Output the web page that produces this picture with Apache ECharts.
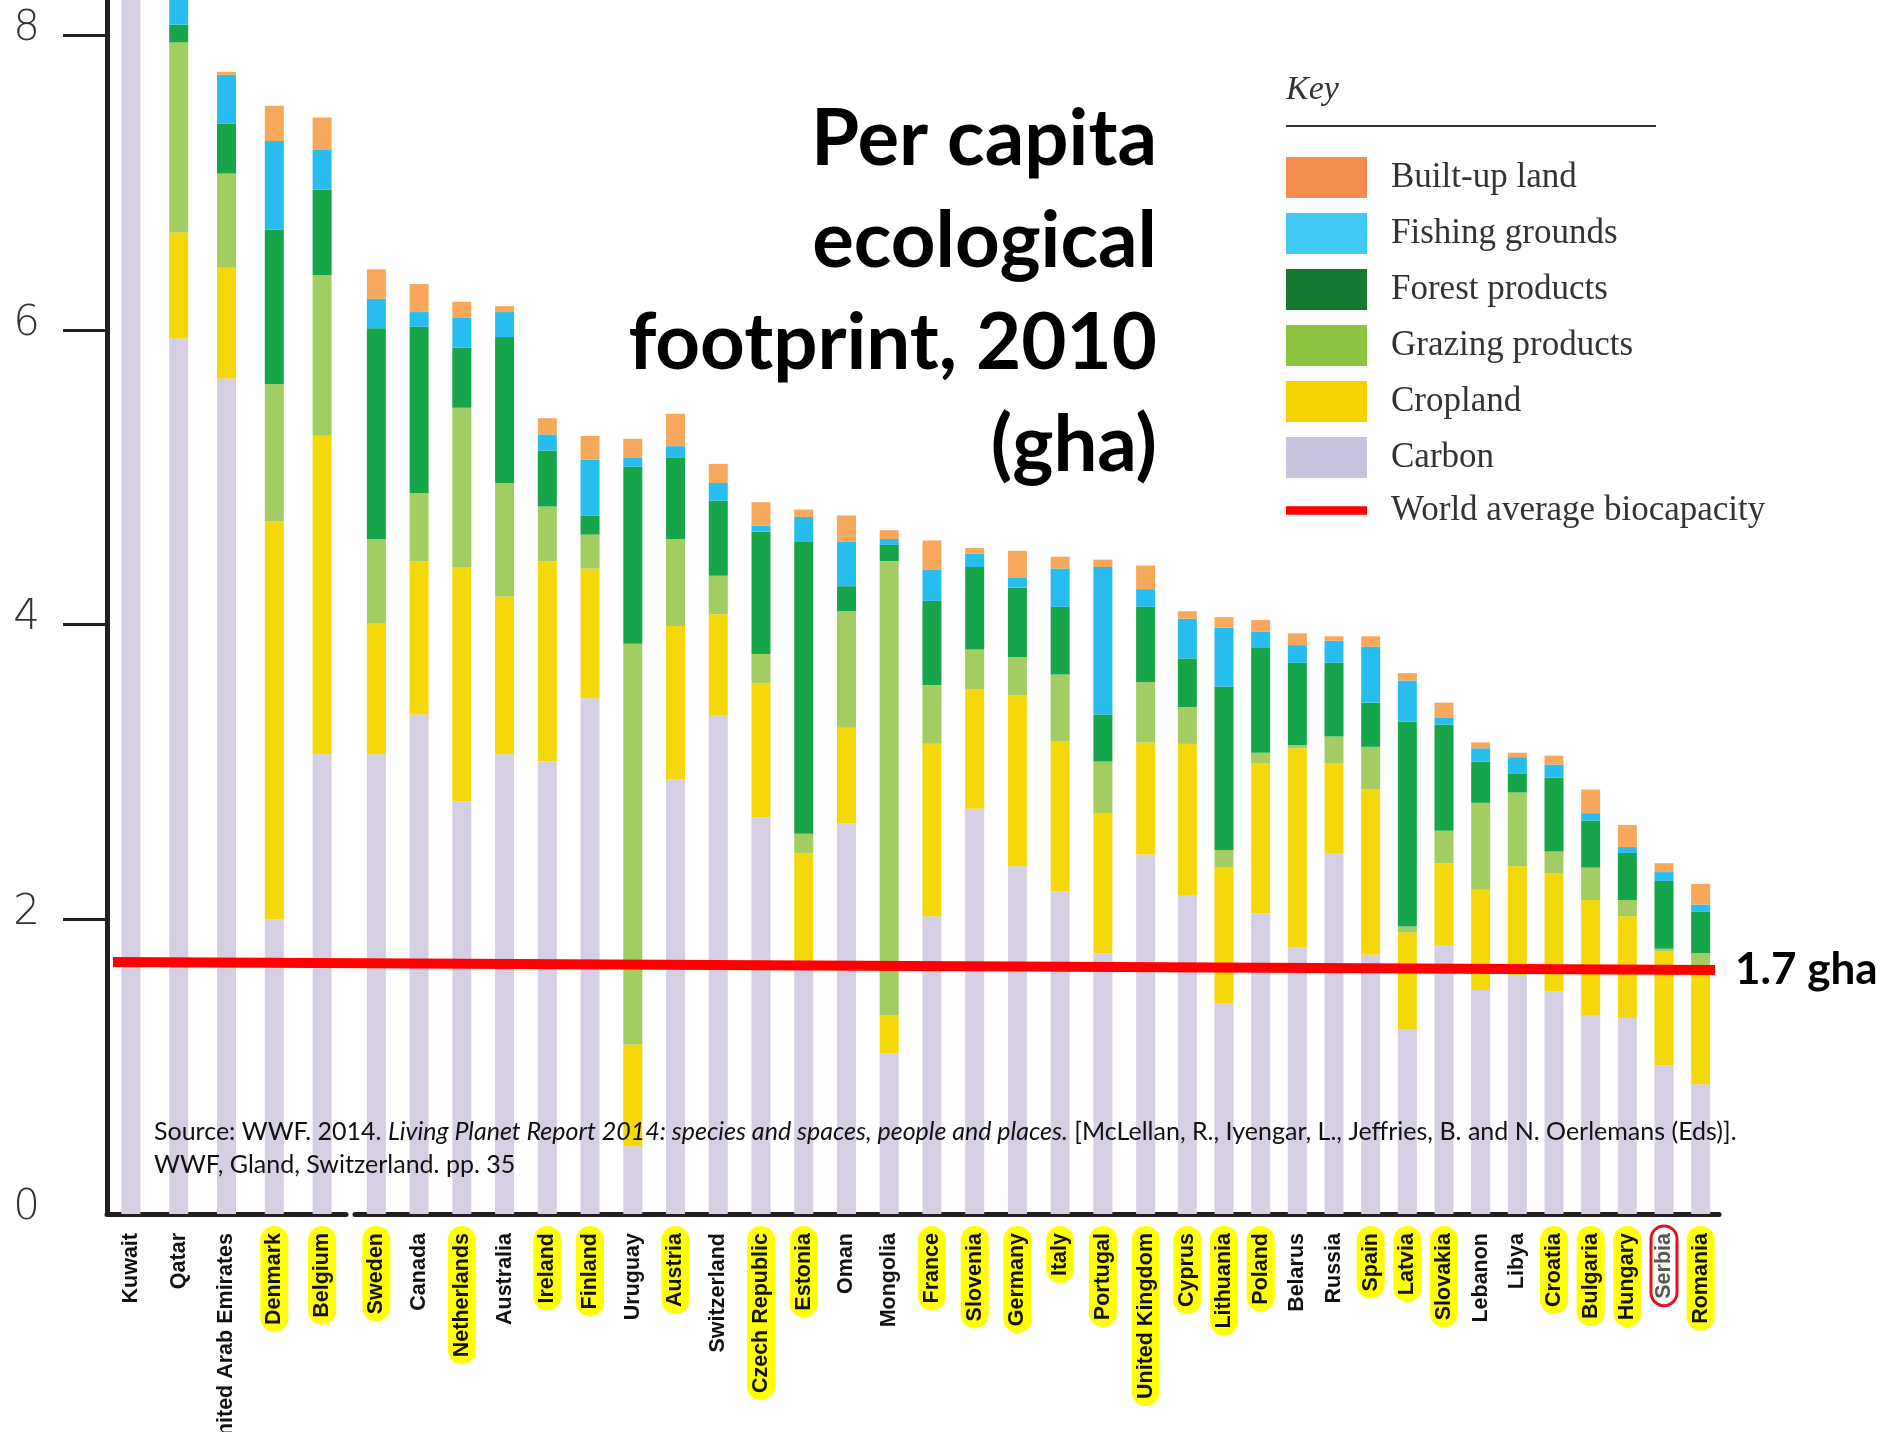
<!DOCTYPE html>
<html>
<head>
<meta charset="utf-8">
<script src="https://cdn.jsdelivr.net/npm/echarts@6/dist/echarts.min.js"></script>
<style>
html,body{margin:0;padding:0;background:#fff;}
#chart{width:1884px;height:1432px;}
</style>
</head>
<body>
<div id="chart"></div>
<script>
// ---------------- data ----------------
const countries = ['Kuwait','Qatar','United Arab Emirates','Denmark','Belgium','Sweden','Canada','Netherlands','Australia','Ireland','Finland','Uruguay','Austria','Switzerland','Czech Republic','Estonia','Oman','Mongolia','France','Slovenia','Germany','Italy','Portugal','United Kingdom','Cyprus','Lithuania','Poland','Belarus','Russia','Spain','Latvia','Slovakia','Lebanon','Libya','Croatia','Bulgaria','Hungary','Serbia','Romania'];
const carbon   = [8.60,5.94,5.67,2.00,3.12,3.12,3.39,2.80,3.12,3.07,3.50,0.46,2.95,3.38,2.69,1.68,2.65,1.09,2.02,2.75,2.36,2.19,1.77,2.44,2.16,1.43,2.04,1.81,2.45,1.76,1.25,1.82,1.52,1.62,1.51,1.35,1.33,1.01,0.88];
const cropland = [0.00,0.72,0.75,2.70,2.16,0.89,1.04,1.59,1.07,1.36,0.88,0.69,1.04,0.69,0.91,0.77,0.65,0.26,1.17,0.81,1.16,1.02,0.95,0.76,1.03,0.92,1.02,1.35,0.61,1.12,0.66,0.56,0.68,0.74,0.80,0.78,0.69,0.77,0.79];
const grazing  = [0.00,1.29,0.64,0.93,1.09,0.57,0.46,1.08,0.77,0.37,0.23,2.72,0.59,0.26,0.20,0.13,0.79,3.08,0.40,0.27,0.26,0.45,0.35,0.41,0.25,0.12,0.07,0.02,0.18,0.29,0.04,0.22,0.59,0.50,0.15,0.22,0.11,0.02,0.10];
const forest   = [0.00,0.12,0.34,1.05,0.58,1.43,1.13,0.41,0.99,0.38,0.13,1.20,0.55,0.51,0.83,1.98,0.17,0.11,0.57,0.56,0.47,0.46,0.32,0.51,0.33,1.11,0.71,0.56,0.50,0.30,1.39,0.72,0.28,0.13,0.50,0.32,0.32,0.46,0.28];
const fishing  = [0.00,0.30,0.33,0.60,0.27,0.20,0.10,0.20,0.17,0.11,0.38,0.06,0.08,0.12,0.04,0.17,0.30,0.04,0.21,0.09,0.07,0.26,1.00,0.12,0.27,0.40,0.11,0.12,0.15,0.38,0.28,0.05,0.09,0.11,0.09,0.05,0.04,0.06,0.05];
const builtUp  = [0.00,0.10,0.02,0.24,0.22,0.20,0.19,0.11,0.04,0.11,0.16,0.13,0.22,0.13,0.16,0.05,0.18,0.06,0.20,0.04,0.18,0.08,0.05,0.16,0.05,0.07,0.08,0.08,0.03,0.07,0.05,0.10,0.04,0.03,0.06,0.16,0.15,0.06,0.14];
const highlighted = ['Denmark','Belgium','Sweden','Netherlands','Ireland','Finland','Austria','Czech Republic','Estonia','France','Slovenia','Germany','Italy','Portugal','United Kingdom','Cyprus','Lithuania','Poland','Spain','Latvia','Slovakia','Croatia','Bulgaria','Hungary','Romania'];
const circled = ['Serbia'];
const yTickValues = [0,2,4,6,8];
const worldAverageEnds = [1.71, 1.655];   // the drawn biocapacity line, left and right end
const worldAverageLabel = '1.7 gha';
const legendNames = ['Built-up land','Fishing grounds','Forest products','Grazing products','Cropland','Carbon','World average biocapacity'];
const segments = [[0,5],[5,24],[24,39]];  // the source picture is built of three pieces

// ---------------- styling ----------------
const layers = [
  {name:'Carbon', data:carbon, color:'#D6CFE3', key:'#C7C4E0'},
  {name:'Cropland', data:cropland, color:'#F5D80A', key:'#F5D300'},
  {name:'Grazing products', data:grazing, color:'#A2CD62', key:'#8DC43F'},
  {name:'Forest products', data:forest, color:'#17A54A', key:'#177A33'},
  {name:'Fishing grounds', data:fishing, color:'#27BEEF', key:'#40C9F4'},
  {name:'Built-up land', data:builtUp, color:'#F8A85A', key:'#F78C50'}
];
const Y0 = 1214, Y8 = 35;
const yMax = 8 + Y8 / ((Y0 - Y8) / 8);
const gridBoxes = [
  {left:107, width:239},
  {left:355, width:812},
  {left:1169, width:550}
];
const labelFont = "'Liberation Sans',Arial,sans-serif";

const grids = gridBoxes.map(b => ({left:b.left, width:b.width, top:0, height:Y0, containLabel:false, outerBoundsMode:'none'}));
grids.push({left:113, width:1602, top:0, height:Y0, outerBoundsMode:'none'});

const xAxes = segments.map((s, i) => ({
  type:'category', gridIndex:i, data:countries.slice(s[0], s[1]),
  axisLine:{show:true, lineStyle:{color:'#231f20', width:5}},
  axisTick:{show:false},
  axisLabel:{
    interval:0, rotate:90, margin:12, hideOverlap:false,
    formatter:v => circled.includes(v) ? '{s|'+v+'}' : (highlighted.includes(v) ? '{h|'+v+'}' : '{n|'+v+'}'),
    rich:{
      n:{fontFamily:labelFont, fontSize:21.5, fontWeight:'bold', color:'#111', padding:[3,7,3,7]},
      h:{fontFamily:labelFont, fontSize:21.5, fontWeight:'bold', color:'#111', padding:[3,7,3,7], backgroundColor:'#FFFF00', borderRadius:14},
      s:{fontFamily:labelFont, fontSize:21.5, fontWeight:'bold', color:'#555', padding:[2,7,2,7], borderColor:'#E8101A', borderWidth:3, borderRadius:18}
    }
  }
}));
xAxes.push({type:'value', gridIndex:3, min:0, max:1, show:false});

const yAxes = [0,1,2,3].map(i => ({
  type:'value', gridIndex:i, min:0, max:yMax,
  show: i === 0,
  splitLine:{show:false},
  axisLine:{show:true, lineStyle:{color:'#231f20', width:5}},
  axisTick:{show:true, length:44, customValues:[2,4,6,8], lineStyle:{color:'#231f20', width:3}},
  axisLabel:{show:true, customValues:yTickValues, margin:67, fontFamily:"'DejaVu Sans',sans-serif", fontWeight:200, fontSize:42, color:'#333', verticalAlign:'bottom', lineHeight:12}
}));

const series = [];
segments.forEach((s, gi) => {
  layers.forEach(l => {
    series.push({
      type:'bar', name:l.name, stack:'fp'+gi, xAxisIndex:gi, yAxisIndex:gi,
      data:l.data.slice(s[0], s[1]), barWidth:19,
      itemStyle:{color:l.color}, emphasis:{disabled:true}
    });
  });
});
series.push({
  type:'line', name:'World average biocapacity', xAxisIndex:3, yAxisIndex:3, z:6,
  data:[[0, worldAverageEnds[0]], [1, worldAverageEnds[1]]],
  symbol:'none', lineStyle:{color:'#FF0000', width:10, cap:'butt'}, itemStyle:{color:'#FF0000'},
  endLabel:{show:true, formatter:worldAverageLabel, distance:20, fontFamily:'Lato', fontWeight:'bold', fontSize:44, color:'#000'}
});

const legendData = legendNames.map(n => {
  if (n === 'World average biocapacity') return {name:n, icon:'path://M0,0H84V9H0Z', itemStyle:{color:'#FF0000', borderWidth:0}};
  const l = layers.find(x => x.name === n);
  return {name:n, icon:'rect', itemStyle:{color:l.key, borderWidth:0}};
});

const chart = echarts.init(document.getElementById('chart'), null, {renderer:'canvas'});
chart.setOption({
  animation:false,
  backgroundColor:'#fff',
  grid:grids, xAxis:xAxes, yAxis:yAxes, series:series,
  legend:{
    data:legendData, orient:'vertical', left:1286, top:157, padding:0, itemWidth:81, itemHeight:41, itemGap:15,
    selectedMode:false,
    textStyle:{fontFamily:"'Liberation Serif',serif", fontSize:35, color:'#333', padding:[0,0,0,19]}
  },
  graphic:[
    {type:'text', x:1157, y:89, z:10, style:{
      text:'Per capita\necological\nfootprint, 2010\n(gha)', align:'right', verticalAlign:'top',
      font:"bold 78px Lato", lineHeight:102, fill:'#000'}},
    {type:'text', x:1286, y:90, z:10, style:{text:'Key', verticalAlign:'middle', font:"italic 34px 'Liberation Serif'", fill:'#333'}},
    {type:'line', z:10, shape:{x1:1286, y1:126, x2:1656, y2:126}, style:{stroke:'#333', lineWidth:2}},
    {type:'text', x:154, y:1115, z:10, style:{
      text:'{r|Source: WWF. 2014. }{i|Living Planet Report 2014: species and spaces, people and places.}{r| [McLellan, R., Iyengar, L., Jeffries, B. and N. Oerlemans (Eds)].}\n{r|WWF, Gland, Switzerland. pp. 35}',
      verticalAlign:'top',
      rich:{
        r:{fontFamily:'Lato', fontSize:25, fill:'#111', lineHeight:33},
        i:{fontFamily:'Lato', fontSize:25, fontStyle:'italic', fill:'#111', lineHeight:33}
      }}}
  ]
});
</script>
</body>
</html>
